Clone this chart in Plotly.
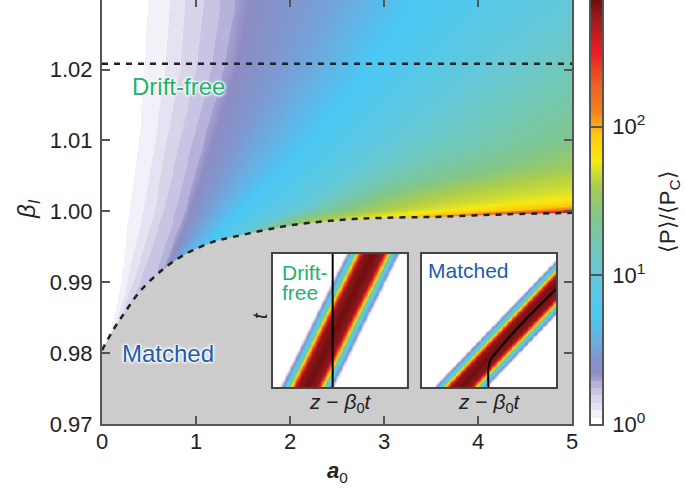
import numpy as np
import plotly.graph_objects as go

W, H = 685, 488
# log10(<P>/<Pc>) levels, and for each beta the a0 at which each level is reached
levels = [0, .05, .10, .15, .20, .25, .30, .35, .52, .72, 1.0, 1.2, 1.4, 1.6, 1.77, 1.95, 2.1, 2.5, 2.85]
beta_rows = [.98, .985, .99, .993, .996, .998, .999, .9995, 1.0, 1.0007, 1.002, 1.0035, 1.006, 1.01, 1.02, 1.03]
crossings = [
    [0, .01, .02, .03, .04, .05, .06, .07, .08, .09, .1, .15, .2, .3, .4, .5, .6, .8, 1.0],
    [0, .13, .16, .19, .21, .23, .25, .27, .3, .33, .4, .5, .7, .85, 1, 1.2, 1.4, 1.8, 2.2],
    [0, .2, .27, .33, .40, .55, .60, .63, .68, .72, .8, .9, 1.0, 1.2, 1.4, 1.6, 1.8, 2.2, 2.6],
    [0, .225, .31, .40, .48, .62, .68, .715, .78, .85, 1.1, 1.2, 1.3, 1.5, 1.7, 1.9, 2.1, 2.5, 3],
    [0, .255, .365, .47, .55, .69, .765, .82, .95, 1.17, 1.4, 1.5, 1.6, 1.8, 2, 2.3, 2.5, 3, 3.5],
    [0, .27, .40, .51, .60, .735, .825, .875, 1.05, 1.3, 1.6, 1.75, 1.9, 2.1, 2.4, 2.7, 2.9, 3.4, 4],
    [0, .28, .42, .533, .625, .757, .853, .903, 1.10, 1.38, 1.8, 1.95, 2.1, 2.35, 2.75, 3.1, 3.3, 3.9, 4.5],
    [0, .285, .43, .544, .637, .768, .866, .916, 1.125, 1.42, 1.9, 2.05, 2.25, 2.6, 3.1, 3.5, 3.8, 4.4, 5.2],
    [0, .29, .44, .555, .65, .78, .88, .93, 1.15, 1.45, 2.0, 2.2, 2.45, 2.85, 3.5, 4.1, 4.4, 4.95, 5.7],
    [0, .297, .449, .564, .662, .793, .894, .948, 1.18, 1.5, 2.1, 2.35, 2.65, 3.1, 4.0, 4.9, 5.2, 6.5, 8],
    [0, .31, .464, .58, .685, .817, .92, .98, 1.25, 1.6, 2.25, 2.55, 2.9, 3.4, 5.0, 6.5, 7, 8, 9],
    [0, .325, .483, .60, .71, .844, .95, 1.02, 1.32, 1.71, 2.4, 2.8, 3.25, 4.0, 6, 7, 7.5, 8.5, 9.5],
    [0, .35, .513, .63, .754, .89, 1.0, 1.08, 1.44, 1.9, 2.65, 3.2, 4.1, 5.1, 6.5, 7.5, 8.5, 9.5, 10.5],
    [0, .39, .562, .68, .824, .963, 1.08, 1.18, 1.63, 2.2, 3.05, 4.0, 5.0, 6.2, 7.5, 8.5, 9.5, 10.5, 11.5],
    [0, .45, .67, .83, 1.0, 1.16, 1.29, 1.42, 2.1, 2.8, 4.0, 5.1, 6.3, 7.3, 8, 9, 10, 11, 12],
    [0, .49, .72, .88, 1.08, 1.26, 1.42, 1.57, 2.5, 3.3, 5.0, 6.2, 7, 8, 9, 10, 11, 12, 13],
]
matched_a0 = [0, .14, .25, .4, .617, .8, .97, 1.2, 1.4, 1.82, 2.07, 2.53, 3, 3.6, 4.3, 5]
matched_beta = [.98046, .98375, .9859, .98868, .9915, .9933, .99455, .9958, .99642, .99761, .99817, .9988, .9991, .99925, .9996, .9998]
drift_free_beta = 1.0208

# insets
profile_offset = [0, .075, .095, .11, .12, .135, .15, .175, .2, .215]
profile_log = [2.85, 2.75, 2.4, 2.0, 1.75, 1.3, 1.0, .5, .1, 0]
inset_t = [0, .25, .5, .75, 1]
left_centre = [.256, .38, .50, .625, .747]
right_centre = [.285, .524, .763, 1.002, 1.241]
left_path_x = [.449, .449]
left_path_t = [0, 1]
right_path_x = [.496, .496, .51, .558, .757, .993, 1.0]
right_path_t = [0, .14, .2, .264, .489, .726, .733]
inset_grid = [i / 160 for i in range(161)]

# colour levels (log10 of power ratio) and their colours
L_MAX = 2.85
colour_stops = [
    (0, "#ffffff"), (.05, "#ffffff"), (.05, "#f2f1f9"), (.10, "#f2f1f9"), (.10, "#e5e3f2"), (.15, "#e5e3f2"),
    (.15, "#d8d5eb"), (.20, "#d8d5eb"), (.20, "#c8c4e3"), (.25, "#c8c4e3"), (.25, "#b7b2da"), (.30, "#b7b2da"),
    (.30, "#a5a0d1"), (.35, "#8e8cc4"), (.45, "#7f98d0"), (.6, "#62b4e6"), (.72, "#4ac8f4"), (1.0, "#63c8da"),
    (1.2, "#72c8b4"), (1.4, "#82c68a"), (1.6, "#a8cc50"), (1.77, "#f5ea14"), (1.95, "#ffc40c"), (2.1, "#f58020"),
    (2.3, "#ee5a22"), (2.5, "#ed1c24"), (2.7, "#a51c20"), (2.85, "#6e0f0f"),
]
colorscale = [[v / L_MAX, c] for v, c in colour_stops]
bar_levels = [i * .01 for i in range(286)]

GREEN, BLUE, AXIS = "#1fb26e", "#1f5cae", "#555555"
FONT = "Liberation Sans"
HALO = "0 0 2px white, 0 0 2px white, 0 0 3px white, 0 0 3px white, 0 0 4px white"


def px(x):
    return x / W


def py(y):
    return 1 - y / H


def band(centres):
    rows = []
    for tv in inset_grid:
        c = np.interp(tv, inset_t, centres)
        rows.append(np.interp(np.abs(np.array(inset_grid) - c), profile_offset, profile_log, right=0))
    return rows


# field sampled at each pixel-ish step from the crossing table
a_axis = np.arange(0, 5.001, .02)
beta_axis = np.arange(.98, 1.03001, .00025)
cross = np.array(crossings)
field = []
for b in beta_axis:
    row_cross = [np.interp(b, beta_rows, cross[:, j]) for j in range(len(levels))]
    field.append(np.interp(a_axis, row_cross, levels))

fig = go.Figure()
fig.add_trace(go.Heatmap(x=a_axis, y=beta_axis, z=field, coloraxis="coloraxis", zsmooth="best", hoverinfo="skip"))
fig.add_trace(go.Scatter(x=matched_a0 + [5, 0], y=matched_beta + [.97, .97], fill="toself", fillcolor="#cccccc",
                         mode="none", hoverinfo="skip"))
fig.add_trace(go.Scatter(x=matched_a0, y=matched_beta, mode="lines", line=dict(color="#222222", width=2.5, dash="6px,6px", shape="spline")))
fig.add_trace(go.Scatter(x=[0, 5], y=[drift_free_beta] * 2, mode="lines", line=dict(color="#222222", width=2.5, dash="6px,6px")))
fig.add_trace(go.Scatter(x=[None], y=[None], xaxis="x2", mode="lines"))

fig.add_trace(go.Heatmap(x=inset_grid, y=inset_grid, z=band(left_centre), coloraxis="coloraxis", zsmooth="best",
                         xaxis="x3", yaxis="y3", hoverinfo="skip"))
fig.add_trace(go.Scatter(x=left_path_x, y=left_path_t, mode="lines", line=dict(color="black", width=2), xaxis="x3", yaxis="y3"))
fig.add_trace(go.Heatmap(x=inset_grid, y=inset_grid, z=band(right_centre), coloraxis="coloraxis", zsmooth="best",
                         xaxis="x4", yaxis="y4", hoverinfo="skip"))
fig.add_trace(go.Scatter(x=right_path_x, y=right_path_t, mode="lines", line=dict(color="black", width=2, shape="spline"), xaxis="x4", yaxis="y4"))
fig.add_trace(go.Heatmap(x=[0, 1], y=bar_levels, z=[[v, v] for v in bar_levels], coloraxis="coloraxis", xaxis="x5", yaxis="y5", hoverinfo="skip"))

tick_font = dict(family=FONT, size=22, color="#222222")
main_dom_x = [px(102), px(572)]
main_dom_y = [py(424.3), 1]
inset_axis = dict(showticklabels=False, ticks="", showline=True, mirror=True, linecolor="#444444", linewidth=2,
                  range=[0, 1], showgrid=False, zeroline=False, automargin=False)


def ann(text, x, y, size=21, color="#222222", angle=0, shadow=None, anchor="center"):
    f = dict(family=FONT, size=size, color=color)
    if shadow:
        f["shadow"] = shadow
    return dict(text=text, x=px(x), y=py(y), xref="paper", yref="paper", showarrow=False, font=f, textangle=angle,
                xanchor=anchor, yanchor="middle")


fig.update_layout(
    width=W, height=H, margin=dict(l=0, r=0, t=0, b=0, pad=0), autosize=False,
    paper_bgcolor="white", plot_bgcolor="white", showlegend=False,
    font=dict(family=FONT),
    coloraxis=dict(colorscale=colorscale, cmin=0, cmax=L_MAX, showscale=False),
    xaxis=dict(domain=main_dom_x, range=[0, 5], tickvals=[0, 1, 2, 3, 4, 5], ticktext=["0", "1", "2", "3", "4", "5"],
               ticks="inside", ticklen=8, tickwidth=1.5, tickcolor=AXIS, showline=True, linecolor=AXIS, linewidth=2,
               showgrid=False, zeroline=False, tickfont=tick_font, anchor="y", automargin=False, ticklabelstandoff=-4),
    xaxis2=dict(domain=main_dom_x, range=[0, 5], overlaying="x", side="top", tickvals=[1, 2, 3, 4],
                ticks="inside", ticklen=7, tickwidth=1.5, tickcolor=AXIS, showticklabels=False, showline=False,
                showgrid=False, zeroline=False, anchor="y", automargin=False),
    yaxis=dict(domain=main_dom_y, range=[.97, 1.0298], tickvals=[.97, .98, .99, 1.0, 1.01, 1.02],
               ticktext=["0.97", "0.98", "0.99", "1.00", "1.01", "1.02"], ticks="inside", ticklen=8, tickwidth=1.5,
               tickcolor=AXIS, showline=True, mirror="ticks", linecolor=AXIS, linewidth=2, showgrid=False,
               zeroline=False, tickfont=tick_font, automargin=False, ticklabelstandoff=3),
    xaxis3=dict(domain=[px(272.5), px(406.5)], anchor="y3", **inset_axis),
    yaxis3=dict(domain=[py(387), py(253.5)], anchor="x3", **inset_axis),
    xaxis4=dict(domain=[px(422), px(556)], anchor="y4", **inset_axis),
    yaxis4=dict(domain=[py(387), py(253.5)], anchor="x4", **inset_axis),
    xaxis5=dict(domain=[px(591), px(602)], anchor="y5", range=[0, 1], showticklabels=False, ticks="", showgrid=False,
                zeroline=False, showline=True, mirror=True, linecolor=AXIS, linewidth=1.5, automargin=False),
    yaxis5=dict(domain=main_dom_y, anchor="x5", side="right", range=[0, L_MAX], tickvals=[0, 1, 2],
                ticktext=["10<sup>0</sup>", "10<sup>1</sup>", "10<sup>2</sup>"], ticks="inside", ticklen=11,
                tickcolor=AXIS, tickwidth=1.5, tickfont=tick_font, showgrid=False, zeroline=False,
                showline=True, linecolor=AXIS, linewidth=1.5, mirror=True, automargin=False, ticklabelstandoff=4),
    annotations=[
        ann("Drift-free", 178.5, 86, 24, GREEN, shadow=HALO),
        ann("Matched", 168, 353, 24, BLUE, shadow=HALO),
        ann("Drift-", 280, 272, 21, GREEN, anchor="left"),
        ann("free", 280, 292, 21, GREEN, anchor="left"),
        ann("Matched", 468, 270, 21, BLUE),
        ann("<i>t</i>", 260, 316, 20, angle=-90),
        ann("<i>z</i> − <i>β</i><sub>0</sub><i>t</i>", 340, 403, 21),
        ann("<i>z</i> − <i>β</i><sub>0</sub><i>t</i>", 489, 403, 21),
        ann("<b><i>a</i></b><sub>0</sub>", 337, 472, 22),
        ann("<i>β<sub>I</sub></i>", 28, 209, 24, angle=-90),
        ann("⟨P⟩/⟨P<sub>C</sub>⟩", 669, 212, 22, angle=-90),
    ],
)
fig.write_html("out.html", post_script="document.body.style.margin='0';", config={"displayModeBar": False})
